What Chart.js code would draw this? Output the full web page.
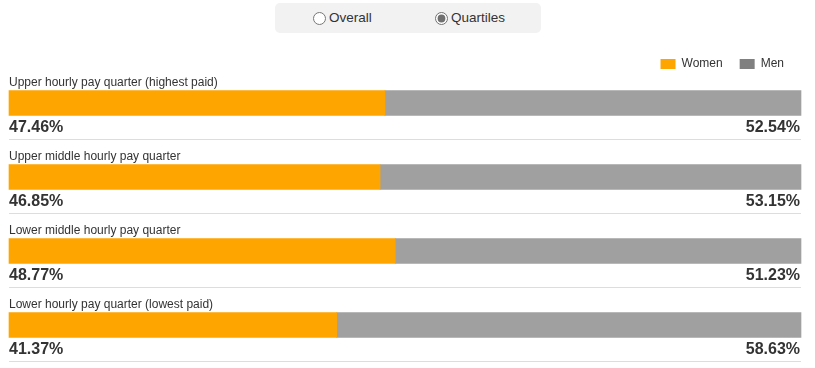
<!DOCTYPE html>
<html>
<head>
<meta charset="utf-8">
<script src="https://cdn.jsdelivr.net/npm/chart.js@4"></script>
<style>
  html, body { margin: 0; padding: 0; background: #fff; overflow: hidden; }
  body { width: 815px; height: 368px; position: relative; font-family: "Liberation Sans", Arial, sans-serif; }
  #wrap { position: absolute; left: 0; top: 0; width: 815px; height: 368px; }
  #switch {
    position: absolute; left: 275px; top: 3px; width: 266px; height: 30px;
    background: #f2f2f2; border-radius: 5px; z-index: 2;
    font-size: 13.5px; color: #333;
  }
  #switch label { position: absolute; top: 0; height: 30px; line-height: 30px; display: flex; align-items: center; }
  #switch input { margin: 0 3px 0 0; width: 13px; height: 13px; accent-color: #707070; }
</style>
</head>
<body>
<div id="switch">
  <label style="left:38px"><input type="radio" name="view"> Overall</label>
  <label style="left:160px"><input type="radio" name="view" checked> Quartiles</label>
</div>
<div id="wrap"><canvas id="c"></canvas></div>
<script>
const categories = [
  "Upper hourly pay quarter (highest paid)",
  "Upper middle hourly pay quarter",
  "Lower middle hourly pay quarter",
  "Lower hourly pay quarter (lowest paid)"
];
const seriesNames = ["Women", "Men"];
const women = [47.46, 46.85, 48.77, 41.37];
const men = [52.54, 53.15, 51.23, 58.63];

const FONT = '"Liberation Sans", Arial, sans-serif';

const labelPlugin = {
  id: 'quartileLabels',
  afterDatasetsDraw(chart) {
    const ctx = chart.ctx;
    const area = chart.chartArea;
    const y = chart.scales.y;
    ctx.save();
    categories.forEach((cat, i) => {
      const c = y.getPixelForValue(i);
      ctx.fillStyle = '#333';
      ctx.textBaseline = 'alphabetic';
      ctx.font = '12px ' + FONT;
      ctx.textAlign = 'left';
      ctx.fillText(cat, area.left, c - 17.5);
      ctx.font = 'bold 16px ' + FONT;
      ctx.fillText(women[i].toFixed(2) + '%', area.left, c + 29);
      ctx.textAlign = 'right';
      ctx.fillText(men[i].toFixed(2) + '%', area.right - 1, c + 29);
      ctx.strokeStyle = '#dddddd';
      ctx.lineWidth = 1;
      ctx.beginPath();
      ctx.moveTo(area.left, Math.round(c + 36) + 0.5);
      ctx.lineTo(area.right, Math.round(c + 36) + 0.5);
      ctx.stroke();
    });
    ctx.restore();
  }
};

new Chart(document.getElementById('c'), {
  type: 'bar',
  data: {
    labels: categories,
    datasets: [
      { label: seriesNames[0], data: women, backgroundColor: '#FFA500', barThickness: 25, clip: false },
      { label: seriesNames[1], data: men, backgroundColor: '#A0A0A0', barThickness: 25, clip: false }
    ]
  },
  options: {
    indexAxis: 'y',
    responsive: true,
    maintainAspectRatio: false,
    animation: false,
    layout: { padding: { left: 9, right: 14, top: 41, bottom: 43 } },
    scales: {
      x: {
        stacked: true, min: 0, max: 100, position: 'top',
        display: true,
        ticks: { display: false },
        grid: { display: false },
        border: { display: false },
        afterFit(scale) { scale.height = 23; }
      },
      y: {
        stacked: true, offset: false, display: false
      }
    },
    plugins: {
      tooltip: { enabled: false },
      legend: {
        display: true,
        position: 'top',
        align: 'end',
        labels: {
          boxWidth: 15, boxHeight: 10, padding: 17,
          color: '#333',
          font: { size: 12, family: FONT },
          generateLabels(chart) {
            const items = Chart.defaults.plugins.legend.labels.generateLabels(chart);
            const cols = ['#FFA500', '#808080'];
            items.forEach((it, i) => { it.fillStyle = cols[i]; it.strokeStyle = cols[i]; it.lineWidth = 0; });
            return items;
          }
        }
      }
    }
  },
  plugins: [labelPlugin]
});
</script>
</body>
</html>
